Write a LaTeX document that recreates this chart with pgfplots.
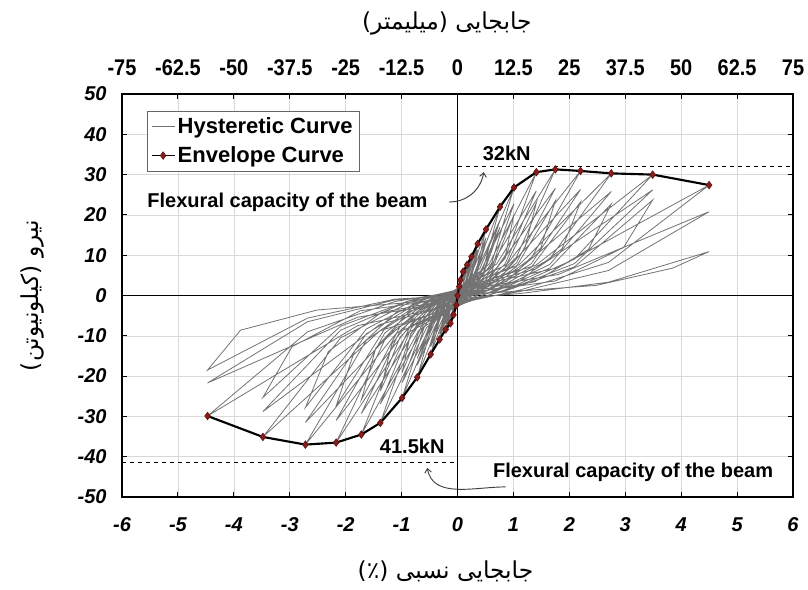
\documentclass[border=0pt]{standalone}
\usepackage{pgfplots}
\pgfplotsset{compat=1.18}
\usepackage{fontspec}
\setmainfont{Liberation Sans}
\newfontfamily\narrowfont[FakeStretch=0.88]{Liberation Sans}
\newfontfamily\fa[Script=Arabic]{DejaVu Sans}
\TeXXeTstate=1
\usetikzlibrary{arrows.meta}
\definecolor{hyst}{HTML}{737373}
\definecolor{envred}{HTML}{8B1C1C}
\begin{document}
\begin{tikzpicture}
\begin{axis}[name=ax, scale only axis, width=503.25pt, height=302.25pt,
  xmin=-6, xmax=6, ymin=-50, ymax=50,
  xtick={-6,-5,-4,-3,-2,-1,0,1,2,3,4,5,6},
  ytick={-50,-40,-30,-20,-10,0,10,20,30,40,50},
  grid=major, grid style={line width=0.4pt, color=black!15},
  tick align=inside, major tick length=4pt,
  tick style={black, line width=0.8pt},
  axis line style={line width=1pt},
  /pgf/number format/assume math mode=true,
  tick label style={font=\fontsize{15}{17}\selectfont\bfseries\itshape},
  xticklabel style={yshift=-12pt},
  yticklabel style={xshift=-8pt},
  legend style={at={(0.037,0.958)}, anchor=north west, draw=black!60, line width=0.6pt,
    font=\fontsize{16.5}{18}\selectfont\bfseries, inner sep=3pt, row sep=4pt},
  legend cell align=left,
  legend image post style={line width=0.8pt},
]
\addplot[black, line width=0.8pt, forget plot] coordinates {(-6,0) (6,0)};
\addplot[black, line width=0.8pt, forget plot] coordinates {(0,-50) (0,50)};
\addplot[hyst, line width=0.6pt] coordinates {
(0,0)
(0.03,2.2) (0.012,0.2) (-0.01,-1.2) (-0.004,-0.1)
(0.03,2.0) (0.012,0.2) (-0.01,-1.1) (-0.004,-0.1)
(0.05,3.8) (0.02,0.4) (-0.02,-2.4) (-0.008,-0.2)
(0.05,3.4) (0.02,0.3) (-0.02,-2.2) (-0.008,-0.2)
(0.10,5.9) (0.04,0.6) (-0.07,-4.8) (-0.028,-0.5)
(0.10,5.3) (0.04,0.5) (-0.07,-4.3) (-0.028,-0.4)
(0.17,7.6) (0.07,0.8) (-0.125,-6.9) (-0.05,-0.7)
(0.17,6.8) (0.07,0.7) (-0.125,-6.2) (-0.05,-0.6)
(0.17,6.3) (0.06,0.6) (-0.125,-5.8) (-0.05,-0.5)
(0.25,9.6) (0.10,1.0) (-0.21,-8.4) (-0.08,-0.8)
(0.25,8.6) (0.10,0.9) (-0.21,-7.6) (-0.08,-0.8)
(0.25,8.0) (0.09,0.8) (-0.21,-7.0) (-0.07,-0.7)
(0.14,3.2) (0.36,12.8) (0.22,3.8) (0.09,0.6) (-0.13,-2.7) (-0.32,-10.9) (-0.19,-3.3) (-0.08,-0.5)
(0.14,2.8) (0.36,11.3) (0.22,3.4) (0.09,0.6) (-0.13,-2.4) (-0.32,-9.6) (-0.19,-2.9) (-0.08,-0.5)
(0.16,2.3) (0.36,10.4) (0.22,3.1) (0.09,0.5) (-0.14,-2.0) (-0.32,-8.9) (-0.19,-2.7) (-0.08,-0.4)
(0.20,4.1) (0.51,16.4) (0.31,4.9) (0.13,0.8) (-0.19,-3.7) (-0.48,-14.6) (-0.29,-4.4) (-0.12,-0.7)
(0.20,3.6) (0.51,14.3) (0.31,4.3) (0.13,0.7) (-0.19,-3.2) (-0.48,-12.7) (-0.29,-3.8) (-0.12,-0.6)
(0.23,2.9) (0.51,13.1) (0.31,3.9) (0.13,0.6) (-0.22,-2.6) (-0.48,-11.6) (-0.29,-3.5) (-0.12,-0.6)
(0.30,5.5) (0.76,22.0) (0.46,6.6) (0.19,1.1) (-0.29,-5.1) (-0.72,-20.3) (-0.43,-6.1) (-0.18,-1.0)
(0.30,4.7) (0.76,18.7) (0.46,5.6) (0.19,0.9) (-0.29,-4.3) (-0.72,-17.3) (-0.43,-5.2) (-0.18,-0.9)
(0.34,3.4) (0.76,17.0) (0.46,5.1) (0.19,0.8) (-0.32,-3.1) (-0.72,-15.6) (-0.43,-4.7) (-0.18,-0.8)
(0.40,6.7) (1.01,26.8) (0.61,8.0) (0.25,1.3) (-0.40,-6.4) (-0.99,-25.4) (-0.59,-7.6) (-0.25,-1.3)
(0.40,5.7) (1.01,22.8) (0.61,6.8) (0.25,1.1) (-0.40,-5.4) (-0.99,-21.6) (-0.59,-6.5) (-0.25,-1.1)
(0.51,3.0) (0.86,10.1) (1.01,20.1) (0.61,6.0) (0.25,1.0) (-0.50,-2.9) (-0.84,-9.6) (-0.99,-19.1) (-0.59,-5.7) (-0.25,-1.0)
(0.56,7.7) (1.41,30.6) (0.85,9.2) (0.35,1.5) (-0.55,-7.9) (-1.38,-31.6) (-0.83,-9.5) (-0.35,-1.6)
(0.56,6.5) (1.41,26.0) (0.85,7.8) (0.35,1.3) (-0.55,-6.7) (-1.38,-26.9) (-0.83,-8.1) (-0.35,-1.3)
(0.71,3.5) (1.20,11.5) (1.41,23.0) (0.85,6.9) (0.35,1.2) (-0.69,-3.6) (-1.17,-11.9) (-1.38,-23.7) (-0.83,-7.1) (-0.35,-1.2)
(0.70,7.8) (1.75,31.3) (1.05,9.4) (0.44,1.6) (-0.69,-8.6) (-1.72,-34.5) (-1.03,-10.4) (-0.43,-1.7)
(0.70,6.7) (1.75,26.6) (1.05,8.0) (0.44,1.3) (-0.69,-7.3) (-1.72,-29.3) (-1.03,-8.8) (-0.43,-1.5)
(0.88,3.5) (1.49,11.8) (1.75,23.5) (1.05,7.1) (0.44,1.2) (-0.86,-3.9) (-1.46,-13.0) (-1.72,-25.9) (-1.03,-7.8) (-0.43,-1.3)
(0.88,7.7) (2.20,30.9) (1.32,9.3) (0.55,1.5) (-0.87,-9.1) (-2.17,-36.5) (-1.30,-11.0) (-0.54,-1.8)
(0.88,6.6) (2.20,26.3) (1.32,7.9) (0.55,1.3) (-0.87,-7.8) (-2.17,-31.0) (-1.30,-9.3) (-0.54,-1.6)
(1.10,3.5) (1.87,11.6) (2.20,23.2) (1.32,7.0) (0.55,1.2) (-1.09,-4.1) (-1.84,-13.7) (-2.17,-27.4) (-1.30,-8.2) (-0.54,-1.4)
(1.10,7.6) (2.75,30.3) (1.65,9.1) (0.69,1.5) (-1.09,-9.3) (-2.72,-37.0) (-1.63,-11.1) (-0.68,-1.9)
(1.10,6.5) (2.75,25.8) (1.65,7.7) (0.69,1.3) (-1.09,-7.9) (-2.72,-31.5) (-1.63,-9.5) (-0.68,-1.6)
(1.38,3.4) (2.34,11.4) (2.75,22.7) (1.65,6.8) (0.69,1.1) (-1.36,-4.2) (-2.31,-13.9) (-2.72,-27.8) (-1.63,-8.3) (-0.68,-1.4)
(1.40,7.5) (3.49,30.0) (2.09,9.0) (0.87,1.5) (-1.39,-8.8) (-3.48,-35.1) (-2.09,-10.5) (-0.87,-1.8)
(1.40,6.6) (3.49,26.2) (2.09,7.9) (0.87,1.3) (-1.39,-7.2) (-3.48,-28.8) (-2.09,-8.6) (-0.87,-1.4)
(1.75,3.6) (2.97,11.9) (3.49,23.7) (2.09,7.1) (0.87,1.2) (-1.74,-3.8) (-2.96,-12.7) (-3.48,-25.3) (-2.09,-7.6) (-0.87,-1.3)
(1.80,6.9) (4.50,27.4) (2.70,8.2) (1.13,1.4) (-1.79,-7.5) (-4.47,-29.9) (-2.68,-9.0) (-1.12,-1.5)
(1.80,5.2) (4.50,20.8) (2.70,6.2) (1.13,1.0) (-1.79,-5.4) (-4.47,-21.7) (-2.68,-6.5) (-1.12,-1.1)
(2.48,2.5) (3.85,6.8) (4.50,10.9) (2.70,3.3) (1.13,0.5) (-2.51,-3.6) (-3.88,-8.6) (-4.47,-18.5) (-2.68,-5.6) (-1.12,-0.9)
(0,0)
};
\addlegendentry{Hysteretic Curve}
\addplot[black, line width=1.6pt, mark=diamond*, mark size=2.8pt,
  mark options={fill=envred, draw=envred!70!black, line width=0.5pt}] coordinates {
(-4.47,-29.9) (-3.48,-35.1) (-2.72,-37.0) (-2.17,-36.5) (-1.72,-34.5) (-1.38,-31.6)
(-0.99,-25.4) (-0.72,-20.3) (-0.48,-14.6) (-0.32,-10.9) (-0.21,-8.4) (-0.125,-6.9)
(-0.07,-4.8) (-0.02,-2.4) (0,0) (0.03,2.2) (0.05,3.8) (0.10,5.9) (0.17,7.6) (0.25,9.6)
(0.36,12.8) (0.51,16.4) (0.76,22.0) (1.01,26.8) (1.41,30.6) (1.75,31.3) (2.20,30.9)
(2.75,30.3) (3.49,30.0) (4.50,27.4)
};
\addlegendentry{Envelope Curve}
\addplot[black, dashed, line width=0.8pt, forget plot] coordinates {(0,32) (6,32)};
\addplot[black, dashed, line width=0.8pt, forget plot] coordinates {(-6,-41.5) (0,-41.5)};
\node[anchor=west, font=\fontsize{15}{17}\selectfont\bfseries, inner sep=0pt] at (axis cs:-5.55,23) {Flexural capacity of the beam};
\node[font=\fontsize{15}{17}\selectfont\bfseries, inner sep=0pt] at (axis cs:0.88,35.3) {32kN};
\node[font=\fontsize{15}{17}\selectfont\bfseries, inner sep=0pt] at (axis cs:-0.81,-37.5) {41.5kN};
\node[font=\fontsize{15}{17}\selectfont\bfseries, inner sep=0pt] at (axis cs:3.14,-44.0) {Flexural capacity of the beam};
\draw[black!75, line width=0.7pt, -{Straight Barb[length=3pt,width=5pt]}] (axis cs:-0.15,23.2) to[out=0, in=-100] (axis cs:0.47,30.6);
\draw[black!75, line width=0.7pt, -{Straight Barb[length=3pt,width=5pt]}] (axis cs:0.86,-47.5) to[out=180, in=-80] (axis cs:-0.54,-42.8);
\end{axis}
\begin{axis}[scale only axis, width=503.25pt, height=302.25pt,
  at={(ax.south west)}, anchor=south west,
  xmin=-75, xmax=75, ymin=-50, ymax=50,
  axis x line*=top, axis y line=none, axis line style={draw=none},
  xtick={-75,-62.5,-50,-37.5,-25,-12.5,0,12.5,25,37.5,50,62.5,75},
  major tick length=0pt,
  /pgf/number format/assume math mode=true,
  xticklabel style={font=\narrowfont\fontsize{17}{19}\selectfont\bfseries, yshift=10pt},
]
\addplot[draw=none] coordinates {(0,0)};
\end{axis}
\node[font=\fa\fontsize{17.5}{20}\selectfont] at ([xshift=-8pt, yshift=53pt]ax.north) {\beginR جابجایی (میلیمتر)\endR};
\node[font=\fa\fontsize{17.5}{20}\selectfont] at ([xshift=-9pt, yshift=-55.5pt]ax.south) {\beginR جابجایی نسبی (٪)\endR};
\node[font=\fa\fontsize{17.5}{20}\selectfont, rotate=90] at ([xshift=-67.5pt]ax.west) {\beginR نیرو (کیلونیوتن)\endR};
\pgfresetboundingbox
\path ([shift={(-91.5pt,-69.75pt)}]ax.south west) rectangle ([shift={(11.25pt,70.5pt)}]ax.north east);
\end{tikzpicture}
\end{document}
